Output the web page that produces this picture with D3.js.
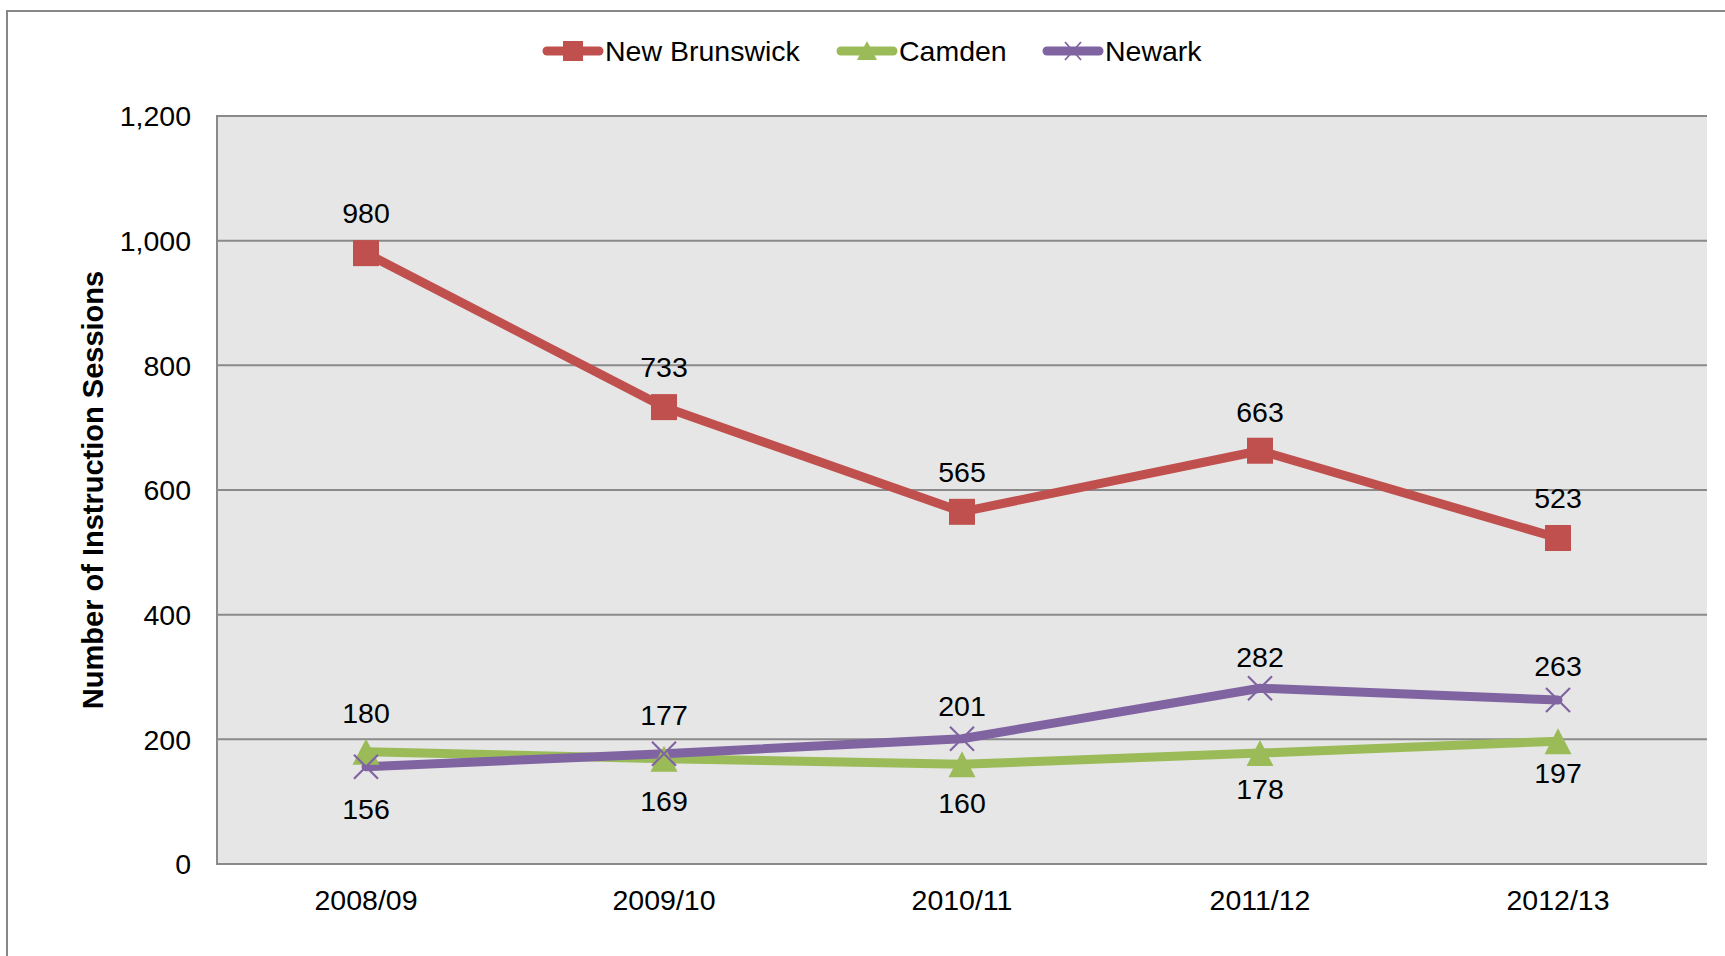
<!DOCTYPE html>
<html><head><meta charset="utf-8">
<script src="https://cdn.jsdelivr.net/npm/d3@7"></script>
<style>body{margin:0;background:#fff}svg{display:block;font-family:"Liberation Sans",Arial,sans-serif}</style>
</head><body>
<svg id="c" width="1725" height="956"></svg>
<script>
const categories = ["2008/09","2009/10","2010/11","2011/12","2012/13"];
const newBrunswick = [980,733,565,663,523];
const camden = [180,169,160,178,197];
const newark = [156,177,201,282,263];
const yTicks = [0,200,400,600,800,1000,1200];
const seriesNames = ["New Brunswick","Camden","Newark"];
const colors = ["#c0504d","#9bbb59","#8064a2"];
const symbols = ["square","triangle","x"];
// data-label centre offset from the marker (px; negative = above)
const labelOffset = [[-40,-40,-40,-39,-40],[-39,42,39,36,32],[42,-39,-33,-31.5,-34.5]];

const FS = 28.5;
const svg = d3.select("#c");
const L=217, R=1707, T=116, B=864;
svg.append("rect").attr("x",7).attr("y",11).attr("width",1740).attr("height",960)
  .attr("fill","#fff").attr("stroke","#878787").attr("stroke-width",2);

const x = d3.scaleBand().domain(categories).range([L,R]);
const y = d3.scaleLinear().domain([0,1200]).range([B,T]);

svg.append("rect").attr("x",L).attr("y",T).attr("width",R-L).attr("height",B-T).attr("fill","#e6e6e6");
svg.append("g").selectAll("line").data(yTicks).join("line")
  .attr("x1",L).attr("x2",R).attr("y1",d=>y(d)).attr("y2",d=>y(d))
  .attr("stroke","#8a8a8a").attr("stroke-width",2);
svg.append("line").attr("x1",L).attr("x2",L).attr("y1",T-1).attr("y2",B+1).attr("stroke","#8a8a8a").attr("stroke-width",2);

const yAxis = svg.append("g").attr("transform",`translate(${L},0)`)
  .call(d3.axisLeft(y).tickValues(yTicks).tickFormat(d3.format(",")).tickSize(0).tickPadding(26));
yAxis.select(".domain").remove();
yAxis.selectAll("text").attr("font-size",FS).attr("fill","#000").attr("font-family","Liberation Sans, Arial, sans-serif").attr("dy","0.35em");

const xAxis = svg.append("g").attr("transform",`translate(0,${B})`)
  .call(d3.axisBottom(x).tickSize(0).tickPadding(26));
xAxis.select(".domain").remove();
xAxis.selectAll("text").attr("font-size",FS).attr("fill","#000").attr("font-family","Liberation Sans, Arial, sans-serif");

svg.append("text").attr("transform",`translate(103,490) rotate(-90)`).attr("text-anchor","middle")
  .attr("font-size",29).attr("font-weight","bold").text("Number of Instruction Sessions");

const data = [newBrunswick, camden, newark];
const cx = c => x(c)+x.bandwidth()/2;
const line = d3.line().x((d,i)=>cx(categories[i])).y(d=>y(d));

function marker(g, sym, color, px, py){
  if(sym==="square"){
    g.append("rect").attr("x",px-13).attr("y",py-13).attr("width",26).attr("height",26).attr("fill",color);
  } else if(sym==="triangle"){
    g.append("path").attr("d",`M${px},${py-13}L${px+13.5},${py+13}L${px-13.5},${py+13}Z`).attr("fill",color);
  } else {
    g.append("path").attr("d",`M${px-12},${py-12}L${px+12},${py+12}M${px-12},${py+12}L${px+12},${py-12}`)
      .attr("stroke",color).attr("stroke-width",2.2).attr("fill","none");
  }
}

[1,2,0].forEach(s=>{
  svg.append("path").attr("d",line(data[s])).attr("fill","none").attr("stroke",colors[s])
    .attr("stroke-width",9).attr("stroke-linejoin","round").attr("stroke-linecap","round");
});
[1,2,0].forEach(s=>{
  const g = svg.append("g");
  data[s].forEach((v,i)=>marker(g,symbols[s],colors[s],cx(categories[i]),y(v)));
});
data.forEach((arr,s)=>{
  svg.append("g").selectAll("text").data(arr).join("text")
    .attr("x",(d,i)=>cx(categories[i]))
    .attr("y",(d,i)=>y(d)+labelOffset[s][i])
    .attr("dy","0.35em")
    .attr("text-anchor","middle").attr("font-size",FS).attr("fill","#000").text(d=>d);
});

// legend
const legX = [543,837,1043];
seriesNames.forEach((n,s)=>{
  const g = svg.append("g");
  const ly = 51, mx = legX[s]+30;
  g.append("line").attr("x1",legX[s]+4).attr("x2",legX[s]+56).attr("y1",ly).attr("y2",ly)
    .attr("stroke",colors[s]).attr("stroke-width",9).attr("stroke-linecap","round");
  if(symbols[s]==="square") g.append("rect").attr("x",mx-10).attr("y",ly-10).attr("width",20).attr("height",20).attr("fill",colors[s]);
  else if(symbols[s]==="triangle") g.append("path").attr("d",`M${mx},${ly-10}L${mx+10},${ly+9}L${mx-10},${ly+9}Z`).attr("fill",colors[s]);
  else g.append("path").attr("d",`M${mx-8},${ly-9}L${mx+8},${ly+9}M${mx-8},${ly+9}L${mx+8},${ly-9}`).attr("stroke",colors[s]).attr("stroke-width",1.8);
  g.append("text").attr("x",legX[s]+62).attr("y",ly).attr("dy","0.35em").attr("font-size",FS).attr("fill","#000").text(n);
});
</script>
</body></html>
